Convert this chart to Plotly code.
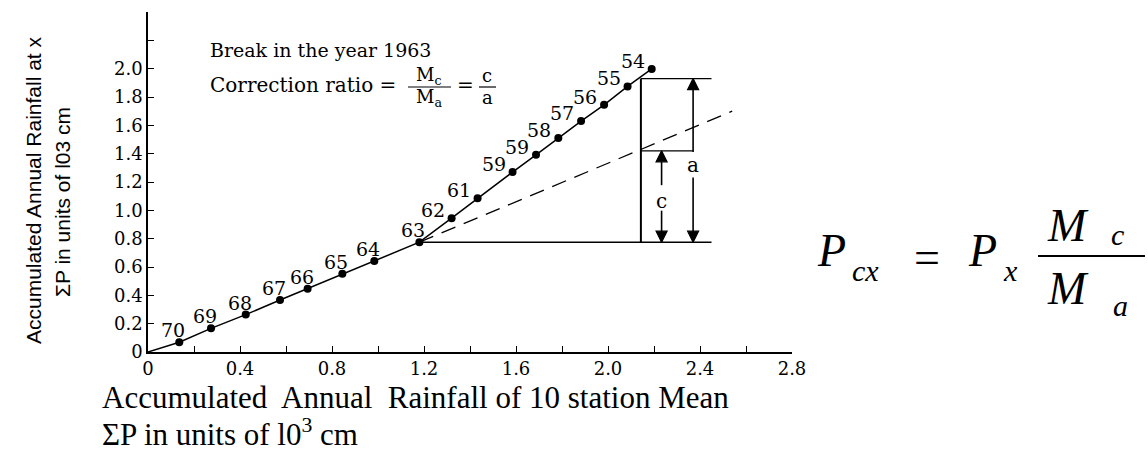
import plotly.graph_objects as go

# ---------------- data ----------------
years = ["70", "69", "68", "67", "66", "65", "64", "63", "62",
         "61", "59", "59", "58", "57", "56", "55", "54"]
sum_mean = [0.136, 0.274, 0.425, 0.574, 0.694, 0.845, 0.984, 1.18, 1.32,
            1.433, 1.585, 1.687, 1.784, 1.883, 1.983, 2.085, 2.19]
sum_station = [0.069, 0.167, 0.264, 0.367, 0.447, 0.553, 0.643, 0.775, 0.945,
               1.086, 1.27, 1.392, 1.51, 1.63, 1.745, 1.875, 1.998]
break_idx = 7          # year 1963
origin = [0.0]

x_ticks = [0, 0.4, 0.8, 1.2, 1.6, 2.0, 2.4, 2.8]
x_labels = ["0", "0.4", "0.8", "1.2", "1.6", "2.0", "2.4", "2.8"]
y_ticks = [0, 0.2, 0.4, 0.6, 0.8, 1.0, 1.2, 1.4, 1.6, 1.8, 2.0]
y_labels = ["0", "0.2", "0.4", "0.6", "0.8", "1.0", "1.2", "1.4", "1.6", "1.8", "2.0"]
minor_step = 0.2

trend_end_x, trend_end_y = 2.54, 1.70     # extension of pre-break slope
measure_x = 2.143                         # vertical measuring line
a_top = 1.93
c_top = 1.42
ref_right = 2.45
a_x, c_x = 2.37, 2.233

# ---------------- layout helpers ----------------
W, H = 1148, 454
L, R, T, B = 148, 356, 12, 102
PW, PH = W - L - R, H - T - B


def px(x):
    return (x - L) / PW


def py(y):
    return (H - B - y) / PH


SERIF = "DejaVu Serif"
TIMES = "Liberation Serif"
NARROW = "Liberation Sans Narrow, Arial Narrow, Liberation Sans, sans-serif"

fig = go.Figure()

bx, by = sum_mean[break_idx], sum_station[break_idx]

# dashed extension of the lower slope
fig.add_trace(go.Scatter(x=[bx, trend_end_x], y=[by, trend_end_y], mode="lines",
                         line=dict(color="black", width=1.3, dash="15px,9px"),
                         hoverinfo="skip", showlegend=False))

# double mass curve
fig.add_trace(go.Scatter(x=origin + sum_mean, y=origin + sum_station, mode="lines",
                         line=dict(color="black", width=1.5),
                         hoverinfo="skip", showlegend=False))
fig.add_trace(go.Scatter(x=sum_mean, y=sum_station, mode="markers",
                         marker=dict(color="black", size=8, symbol="circle"),
                         showlegend=False))

# reference lines
shapes = [
    dict(type="line", xref="x", yref="y", x0=bx, y0=by, x1=ref_right, y1=by,
         line=dict(color="black", width=1.5)),
    dict(type="line", xref="x", yref="y", x0=measure_x, y0=by, x1=measure_x, y1=a_top,
         line=dict(color="black", width=2)),
    dict(type="line", xref="x", yref="y", x0=measure_x, y0=a_top, x1=ref_right, y1=a_top,
         line=dict(color="black", width=1.2)),
    dict(type="line", xref="x", yref="y", x0=measure_x, y0=c_top, x1=a_x, y1=c_top,
         line=dict(color="black", width=1.2)),
]

annotations = []


def arrow(x, y_tail, y_head, symbol):
    fig.add_trace(go.Scatter(x=[x, x], y=[y_tail, y_head], mode="lines+markers",
                             line=dict(color="black", width=1.6),
                             marker=dict(symbol=symbol, size=[0, 11], color="black",
                                         opacity=1,
                                         line=dict(color="black", width=1.2)),
                             hoverinfo="skip", showlegend=False))


a_mid = (a_top + by) / 2 - 0.03
c_mid = (c_top + by) / 2 - 0.03
arrow(a_x, a_mid + 0.09, a_top, "arrow-up")
arrow(a_x, a_mid - 0.09, by, "arrow-down")
arrow(c_x, c_mid + 0.11, c_top, "arrow-up")
arrow(c_x, c_mid - 0.07, by, "arrow-down")
annotations.append(dict(x=a_x, y=a_mid, xref="x", yref="y", text="a", showarrow=False,
                        font=dict(family=SERIF, size=20, color="black")))
annotations.append(dict(x=c_x, y=c_mid, xref="x", yref="y", text="c", showarrow=False,
                        font=dict(family=SERIF, size=20, color="black")))

# point labels
for i, (xv, yv, lab) in enumerate(zip(sum_mean, sum_station, years)):
    if i <= break_idx:
        xs, ys = -6, 12
    else:
        xs, ys = -19, 8
    annotations.append(dict(x=xv, y=yv, xref="x", yref="y", text=lab, showarrow=False,
                            xshift=xs, yshift=ys,
                            font=dict(family=SERIF, size=19, color="black")))


def txt(x, y, s, size, family=SERIF, xanchor="center", angle=0):
    annotations.append(dict(x=px(x), y=py(y), xref="paper", yref="paper", text=s,
                            showarrow=False, xanchor=xanchor, yanchor="middle",
                            textangle=angle,
                            font=dict(family=family, size=size, color="black")))


# inset text
txt(208, 50, "Break in the year 1963", 19, xanchor="left")
txt(208, 85, "Correction ratio =", 20, xanchor="left")
txt(429, 76, "M<sub>c</sub>", 18)
txt(429, 98, "M<sub>a</sub>", 18)
txt(465, 85, "=", 20)
txt(487, 75, "c", 18)
txt(487, 97, "a", 18)
shapes.append(dict(type="line", xref="paper", yref="paper", x0=px(408), x1=px(451),
                   y0=py(87), y1=py(87), line=dict(color="black", width=1.2)))
shapes.append(dict(type="line", xref="paper", yref="paper", x0=px(479), x1=px(496),
                   y0=py(87), y1=py(87), line=dict(color="black", width=1.2)))

# axis titles
txt(33, 190, "Accumulated Annual Rainfall at x", 21, family=NARROW, angle=-90)
txt(62, 202, "\u03a3P in units of l03 cm", 21, family=NARROW, angle=-90)
txt(100, 397, "Accumulated&nbsp; Annual&nbsp; Rainfall of 10 station Mean", 31,
    family=TIMES, xanchor="left")
txt(100, 432, "\u03a3P in units of l0<sup>3</sup> cm", 31, family=TIMES, xanchor="left")

# formula
txt(831, 251, "<i>P</i>", 46, family=TIMES)
txt(865, 270, "<i>cx</i>", 30, family=TIMES)
txt(927, 257, "=", 46, family=TIMES)
txt(982, 251, "<i>P</i>", 46, family=TIMES)
txt(1010, 270, "<i>x</i>", 30, family=TIMES)
txt(1068, 225, "<i>M</i>", 46, family=TIMES)
txt(1117, 234, "<i>c</i>", 30, family=TIMES)
txt(1068, 288, "<i>M</i>", 46, family=TIMES)
txt(1120, 305, "<i>a</i>", 30, family=TIMES)
shapes.append(dict(type="line", xref="paper", yref="paper", x0=px(1038), x1=px(1145),
                   y0=py(256), y1=py(256), line=dict(color="black", width=2)))

tick_style = dict(showline=True, linecolor="black", linewidth=1.5,
                  ticks="inside", ticklen=6, tickwidth=1.3, tickcolor="black",
                  showgrid=False, zeroline=False,
                  minor=dict(ticks="inside", ticklen=6, tickwidth=1.3, tickcolor="black",
                             tick0=0, dtick=minor_step, showgrid=False),
                  tickfont=dict(family=SERIF, size=18, color="black"))

fig.update_layout(
    width=W, height=H, autosize=False,
    margin=dict(l=L, r=R, t=T, b=B, pad=0),
    paper_bgcolor="white", plot_bgcolor="white",
    showlegend=False,
    shapes=shapes, annotations=annotations,
    xaxis=dict(range=[0, 2.8], tickvals=x_ticks, ticktext=x_labels, **tick_style),
    yaxis=dict(range=[0, 2.4], tickvals=y_ticks, ticktext=y_labels, **tick_style),
)

fig.write_html("out.html", config={"displayModeBar": False},
               post_script="document.body.style.margin='0';document.body.style.overflow='hidden';")
